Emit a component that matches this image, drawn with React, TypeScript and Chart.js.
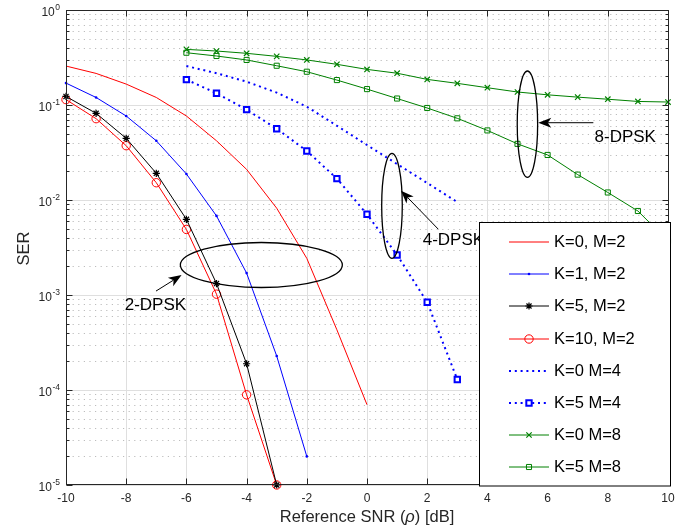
import React, { useEffect, useRef } from "react";
import { Chart, registerables } from "chart.js";

Chart.register(...registerables);

const FONT = '"Liberation Sans", Arial, Helvetica, sans-serif';

// ---- data (SNR in dB, SER) ----
const snrK0M2 = [-10, -9, -8, -7, -6, -5, -4, -3, -2, -1, 0];
const serK0M2 = [0.257, 0.215, 0.166, 0.12, 0.0766, 0.042, 0.021, 0.0082, 0.00243, 0.00043, 0.00007];

const snrK1M2 = [-10, -9, -8, -7, -6, -5, -4, -3, -2];
const serK1M2 = [0.17, 0.12, 0.0766, 0.042, 0.0188, 0.0068, 0.0017, 0.000228, 0.00002];

const snrK5M2 = [-10, -9, -8, -7, -6, -5, -4, -3];
const serK5M2 = [0.123, 0.0817, 0.0446, 0.0191, 0.00626, 0.00132, 0.000189, 0.00001];

const snrK10M2 = [-10, -9, -8, -7, -6, -5, -4, -3];
const serK10M2 = [0.114, 0.0718, 0.0373, 0.0152, 0.0049, 0.00102, 0.000089, 0.00001];

const snrK0M4 = [-6, -5, -4, -3, -2, -1, 0, 1, 2, 3];
const serK0M4 = [0.257, 0.216, 0.176, 0.135, 0.096, 0.0605, 0.0379, 0.0239, 0.0151, 0.0095];

const snrK5M4 = [-6, -5, -4, -3, -2, -1, 0, 1, 2, 3];
const serK5M4 = [0.185, 0.133, 0.0893, 0.0563, 0.0328, 0.0168, 0.00707, 0.00264, 0.00084, 0.000129];

const snrK0M8 = [-6, -5, -4, -3, -2, -1, 0, 1, 2, 3, 4, 5, 6, 7, 8, 9, 10];
const serK0M8 = [0.385, 0.37, 0.35, 0.325, 0.298, 0.268, 0.237, 0.216, 0.186, 0.169, 0.152, 0.137, 0.128, 0.121, 0.115, 0.109, 0.1075];

const snrK5M8 = [-6, -5, -4, -3, -2, -1, 0, 1, 2, 3, 4, 5, 6, 7, 8, 9, 10];
const serK5M8 = [0.355, 0.328, 0.298, 0.259, 0.224, 0.183, 0.147, 0.117, 0.093, 0.0724, 0.054, 0.039, 0.0298, 0.0185, 0.012, 0.00766, 0.0037];

const legendLabels = ["K=0, M=2", "K=1, M=2", "K=5, M=2", "K=10, M=2", "K=0 M=4", "K=5 M=4", "K=0 M=8", "K=5 M=8"];

const xTicks = [-10, -8, -6, -4, -2, 0, 2, 4, 6, 8, 10];
const yTickExps = [0, -1, -2, -3, -4, -5];
const xTitleParts = ["Reference SNR (", "\u03C1", ") [dB]"];
const yTitle = "SER";

// annotations (data coordinates)
const annotations = [
  { text: "2-DPSK", ex: -3.51, ey: 2.07e-3, rx: 81, ry: 22.5, ax0: -7.01, ay0: 1.1e-3, ax1: -6.16, ay1: 1.62e-3, tx: -7.03, ty: 7.85e-4 },
  { text: "4-DPSK", ex: 0.83, ey: 8.69e-3, rx: 10.3, ry: 52.5, ax0: 2.37, ay0: 4.92e-3, ax1: 1.13, ay1: 1.253e-2, tx: 2.87, ty: 3.79e-3 },
  { text: "8-DPSK", ex: 5.33, ey: 6.28e-2, rx: 10.2, ry: 53.2, ax0: 7.52, ay0: 6.51e-2, ax1: 5.69, ay1: 6.51e-2, tx: 8.58, ty: 4.53e-2 },
];

const RED = "#ff0000";
const BLUE = "#0000ff";
const BLACK = "#000000";
const GREEN = "#008000";

type Series = {
  xs: number[]; ys: number[]; color: string; width: number; dash: number[];
  marker: string; radius: number; mWidth: number; mFill: string;
};

const series: Series[] = [
  { xs: snrK0M2, ys: serK0M2, color: RED, width: 1, dash: [], marker: "circle", radius: 0, mWidth: 1, mFill: "transparent" },
  { xs: snrK1M2, ys: serK1M2, color: BLUE, width: 1, dash: [], marker: "circle", radius: 1.3, mWidth: 0, mFill: BLUE },
  { xs: snrK5M2, ys: serK5M2, color: BLACK, width: 1, dash: [], marker: "star", radius: 3.6, mWidth: 1.2, mFill: "transparent" },
  { xs: snrK10M2, ys: serK10M2, color: RED, width: 1, dash: [], marker: "circle", radius: 4.2, mWidth: 1, mFill: "transparent" },
  { xs: snrK0M4, ys: serK0M4, color: BLUE, width: 2, dash: [2, 3.8], marker: "circle", radius: 0, mWidth: 1, mFill: "transparent" },
  { xs: snrK5M4, ys: serK5M4, color: BLUE, width: 2, dash: [2, 3.8], marker: "rect", radius: 3.8, mWidth: 2, mFill: "#ffffff" },
  { xs: snrK0M8, ys: serK0M8, color: GREEN, width: 1, dash: [], marker: "crossRot", radius: 3.8, mWidth: 1.2, mFill: "transparent" },
  { xs: snrK5M8, ys: serK5M8, color: GREEN, width: 1, dash: [], marker: "rect", radius: 3.6, mWidth: 1, mFill: "transparent" },
];

function drawMarker(ctx: CanvasRenderingContext2D, s: Series, x: number, y: number) {
  if (s.radius <= 0) return;
  const r = s.radius;
  ctx.save();
  ctx.setLineDash([]);
  ctx.strokeStyle = s.color;
  ctx.fillStyle = s.mFill;
  ctx.lineWidth = s.mWidth;
  ctx.beginPath();
  if (s.marker === "circle") {
    ctx.arc(x, y, r, 0, Math.PI * 2);
    ctx.fill();
    if (s.mWidth > 0) ctx.stroke();
  } else if (s.marker === "rect") {
    const h = r * Math.SQRT1_2;
    ctx.rect(x - h, y - h, 2 * h, 2 * h);
    ctx.fill();
    ctx.stroke();
  } else if (s.marker === "crossRot") {
    const h = r * Math.SQRT1_2;
    ctx.moveTo(x - h, y - h); ctx.lineTo(x + h, y + h);
    ctx.moveTo(x - h, y + h); ctx.lineTo(x + h, y - h);
    ctx.stroke();
  } else if (s.marker === "star") {
    const h = r * Math.SQRT1_2;
    ctx.moveTo(x, y - r); ctx.lineTo(x, y + r);
    ctx.moveTo(x - r, y); ctx.lineTo(x + r, y);
    ctx.moveTo(x - h, y - h); ctx.lineTo(x + h, y + h);
    ctx.moveTo(x - h, y + h); ctx.lineTo(x + h, y - h);
    ctx.stroke();
  }
  ctx.restore();
}

function drawArrow(ctx: CanvasRenderingContext2D, x0: number, y0: number, x1: number, y1: number) {
  const L = 13, W = 5, N = 3.5;
  const dx = x1 - x0, dy = y1 - y0;
  const len = Math.hypot(dx, dy);
  const ux = dx / len, uy = dy / len;
  const px = -uy, py = ux;
  const bx = x1 - ux * L, by = y1 - uy * L;
  const nx = x1 - ux * (L - N), ny = y1 - uy * (L - N);
  ctx.beginPath();
  ctx.moveTo(x0, y0);
  ctx.lineTo(nx, ny);
  ctx.stroke();
  ctx.beginPath();
  ctx.moveTo(x1, y1);
  ctx.lineTo(bx + px * W, by + py * W);
  ctx.lineTo(nx, ny);
  ctx.lineTo(bx - px * W, by - py * W);
  ctx.closePath();
  ctx.fill();
}

const axesPlugin = {
  id: "matlabAxes",
  beforeDatasetsDraw(chart: any) {
    const ctx: CanvasRenderingContext2D = chart.ctx;
    const xs = chart.scales.x, ys = chart.scales.y;
    const { left, right, top, bottom } = chart.chartArea;
    ctx.save();
    ctx.fillStyle = "#ffffff";
    ctx.fillRect(left, top, right - left, bottom - top);
    // minor horizontal dotted grid
    ctx.strokeStyle = "#bdbdbd";
    ctx.lineWidth = 1;
    ctx.setLineDash([1.2, 4.4]);
    for (const e of yTickExps) {
      if (e === 0) continue;
      for (let m = 2; m <= 9; m++) {
        const y = Math.round(ys.getPixelForValue(m * Math.pow(10, e))) + 0.5;
        ctx.beginPath();
        ctx.moveTo(left + 1, y);
        ctx.lineTo(right, y);
        ctx.stroke();
      }
    }
    // major grid
    ctx.setLineDash([]);
    ctx.strokeStyle = "#dfdfdf";
    for (const t of xTicks) {
      const x = Math.round(xs.getPixelForValue(t)) + 0.5;
      ctx.beginPath(); ctx.moveTo(x, top); ctx.lineTo(x, bottom); ctx.stroke();
    }
    for (const e of yTickExps) {
      const y = Math.round(ys.getPixelForValue(Math.pow(10, e))) + 0.5;
      ctx.beginPath(); ctx.moveTo(left, y); ctx.lineTo(right, y); ctx.stroke();
    }
    ctx.restore();
  },
  afterDatasetsDraw(chart: any) {
    const ctx: CanvasRenderingContext2D = chart.ctx;
    const xs = chart.scales.x, ys = chart.scales.y;
    const { left, right, top, bottom } = chart.chartArea;
    const L = Math.round(left) + 0.5, R = Math.round(right) + 0.5;
    const T = Math.round(top) + 0.5, B = Math.round(bottom) - 0.5;
    ctx.save();
    ctx.strokeStyle = "#262626";
    ctx.lineWidth = 1;
    ctx.setLineDash([]);
    ctx.strokeRect(L, T, R - L, B - T);
    // ticks
    ctx.beginPath();
    for (const t of xTicks) {
      const x = Math.round(xs.getPixelForValue(t)) + 0.5;
      ctx.moveTo(x, B); ctx.lineTo(x, B - 6);
      ctx.moveTo(x, T); ctx.lineTo(x, T + 6);
    }
    for (const e of yTickExps) {
      const y = Math.round(ys.getPixelForValue(Math.pow(10, e))) + 0.5;
      ctx.moveTo(L, y); ctx.lineTo(L + 6, y);
      ctx.moveTo(R, y); ctx.lineTo(R - 6, y);
      if (e === 0) continue;
      for (let m = 2; m <= 9; m++) {
        const ym = Math.round(ys.getPixelForValue(m * Math.pow(10, e))) + 0.5;
        ctx.moveTo(L, ym); ctx.lineTo(L + 3, ym);
        ctx.moveTo(R, ym); ctx.lineTo(R - 3, ym);
      }
    }
    ctx.stroke();
    // tick labels
    ctx.fillStyle = "#262626";
    ctx.font = `12px ${FONT}`;
    ctx.textAlign = "center";
    ctx.textBaseline = "middle";
    for (const t of xTicks) {
      ctx.fillText(String(t), xs.getPixelForValue(t), bottom + 13.5);
    }
    for (const e of yTickExps) {
      const y = ys.getPixelForValue(Math.pow(10, e));
      const expStr = String(e);
      ctx.font = `8.5px ${FONT}`;
      ctx.textAlign = "right";
      const rEdge = left - 6;
      ctx.fillText(expStr, rEdge, y - 2.5);
      const w = ctx.measureText(expStr).width;
      ctx.font = `12px ${FONT}`;
      ctx.fillText("10", rEdge - w - 0.5, y + 3);
    }
    // axis titles
    ctx.font = `16.5px ${FONT}`;
    const wA = ctx.measureText(xTitleParts[0]).width;
    const wC = ctx.measureText(xTitleParts[2]).width;
    ctx.font = `italic 16.5px ${FONT}`;
    const wB = ctx.measureText(xTitleParts[1]).width;
    const total = wA + wB + wC;
    let cx = (left + right) / 2 - total / 2;
    const ty = 517;
    ctx.textAlign = "left";
    ctx.font = `16.5px ${FONT}`;
    ctx.fillText(xTitleParts[0], cx, ty);
    cx += wA;
    ctx.font = `italic 16.5px ${FONT}`;
    ctx.fillText(xTitleParts[1], cx, ty);
    cx += wB;
    ctx.font = `16.5px ${FONT}`;
    ctx.fillText(xTitleParts[2], cx, ty);
    ctx.save();
    ctx.translate(24, (top + bottom) / 2 + 1);
    ctx.rotate(-Math.PI / 2);
    ctx.textAlign = "center";
    ctx.fillText(yTitle, 0, 0);
    ctx.restore();

    // annotations
    ctx.strokeStyle = "#000000";
    ctx.fillStyle = "#000000";
    for (const a of annotations) {
      ctx.lineWidth = 1.3;
      ctx.beginPath();
      ctx.ellipse(xs.getPixelForValue(a.ex), ys.getPixelForValue(a.ey), a.rx, a.ry, 0, 0, Math.PI * 2);
      ctx.stroke();
      ctx.lineWidth = 1;
      drawArrow(ctx, xs.getPixelForValue(a.ax0), ys.getPixelForValue(a.ay0), xs.getPixelForValue(a.ax1), ys.getPixelForValue(a.ay1));
      ctx.font = `17px ${FONT}`;
      ctx.textAlign = "center";
      ctx.textBaseline = "middle";
      ctx.fillText(a.text, xs.getPixelForValue(a.tx), ys.getPixelForValue(a.ty));
    }

    // legend
    const lx = 479.5, ly = 222.5, lw = 191, lh = 263.5;
    ctx.fillStyle = "#ffffff";
    ctx.fillRect(lx, ly, lw, lh);
    ctx.strokeStyle = "#000000";
    ctx.lineWidth = 1;
    ctx.strokeRect(lx, ly, lw, lh);
    series.forEach((s, i) => {
      const y = 242.3 + i * 32.07;
      ctx.save();
      ctx.strokeStyle = s.color;
      ctx.lineWidth = s.width;
      ctx.setLineDash(s.dash);
      ctx.beginPath();
      ctx.moveTo(509, Math.round(y));
      ctx.lineTo(549, Math.round(y));
      ctx.stroke();
      ctx.restore();
      drawMarker(ctx, s, 529, Math.round(y));
      ctx.fillStyle = "#000000";
      ctx.font = `16.5px ${FONT}`;
      ctx.textAlign = "left";
      ctx.textBaseline = "middle";
      ctx.fillText(legendLabels[i], 554, y + 0.5);
    });
    ctx.restore();
  },
};

export default function App() {
  const ref = useRef<HTMLCanvasElement>(null);
  useEffect(() => {
    const canvas = ref.current!;
    const chart = new Chart(canvas, {
      type: "line",
      data: {
        datasets: series.map((s, i) => ({
          label: legendLabels[i],
          data: s.xs.map((x, j) => ({ x, y: s.ys[j] })),
          borderColor: s.color,
          backgroundColor: "transparent",
          borderWidth: s.width,
          borderDash: s.dash,
          pointStyle: s.marker as any,
          pointRadius: s.radius,
          pointHoverRadius: s.radius,
          pointBorderColor: s.color,
          pointBackgroundColor: s.mFill,
          pointBorderWidth: s.mWidth,
          tension: 0,
          fill: false,
          clip: false as any,
          order: i,
        })),
      },
      options: {
        animation: false,
        responsive: false,
        maintainAspectRatio: false,
        devicePixelRatio: 1,
        events: [],
        layout: { padding: { top: 10, right: 24, left: 0, bottom: 0 } },
        plugins: { legend: { display: false }, tooltip: { enabled: false } },
        scales: {
          x: {
            type: "linear", min: -10, max: 10,
            grid: { display: false }, border: { display: false }, ticks: { display: false },
            afterFit: (s: any) => { s.height = 46; },
          },
          y: {
            type: "logarithmic", min: 1e-5, max: 1,
            grid: { display: false }, border: { display: false }, ticks: { display: false },
            afterFit: (s: any) => { s.width = 66; },
          },
        },
      } as any,
      plugins: [axesPlugin],
    });
    return () => chart.destroy();
  }, []);
  return (
    <div style={{ position: "fixed", left: 0, top: 0, width: 692, height: 531, background: "#ffffff" }}>
      <canvas ref={ref} width={692} height={531} style={{ display: "block", width: 692, height: 531 }} />
    </div>
  );
}
